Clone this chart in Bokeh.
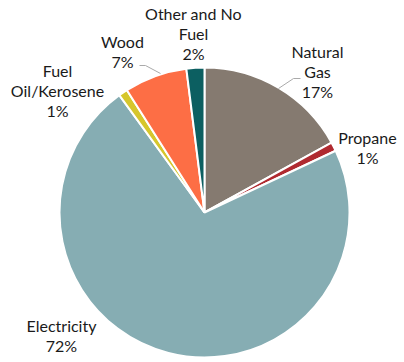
import math
from bokeh.plotting import figure
from bokeh.models import Range1d, ColumnDataSource
from bokeh.core.properties import value
from bokeh.embed import file_html
from bokeh.resources import INLINE

# ---- data ----
categories = ["Natural Gas", "Propane", "Electricity", "Fuel Oil/Kerosene", "Wood", "Other and No Fuel"]
shares = [17, 1, 72, 1, 7, 2]
label_lines = [["Natural", "Gas", "17%"], ["Propane", "1%"], ["Electricity", "72%"],
               ["Fuel", "Oil/Kerosene", "1%"], ["Wood", "7%"], ["Other and No", "Fuel", "2%"]]
colors = ["#857a70", "#b02a30", "#86adb3", "#d6c62c", "#fd6e45", "#0c5f61"]

# ---- layout (screen pixel coords) ----
W, H = 400, 360
CX, CY, R = 204, 212, 145
label_pos = [(317, 51), (367, 137), (61, 325), (57, 70), (122, 41), (193, 13)]
LINE_H = 20
leaders = [([278, 293, 300], [88, 78, 78]), None, None, None,
           ([139, 145, 160], [65, 65, 73]), None]


def sy(y):
    return 362 - y


def sx(x):
    return x


p = figure(width=W, height=H, output_backend="svg", toolbar_location=None,
           x_range=Range1d(0, W), y_range=Range1d(362 - H, 362),
           min_border=0, outline_line_color=None)
p.axis.visible = False
p.grid.visible = False
p.background_fill_color = "white"
p.border_fill_color = "white"

total = sum(shares)
starts, ends = [], []
cum = 0.0
for s in shares:
    a0 = cum / total * 2 * math.pi
    cum += s
    a1 = cum / total * 2 * math.pi
    starts.append(math.pi / 2 - a1)
    ends.append(math.pi / 2 - a0)

src = ColumnDataSource(dict(start=starts, end=ends, color=colors, cat=categories))
p.wedge(x=sx(CX), y=sy(CY), radius=R, start_angle="start", end_angle="end",
        direction="anticlock", fill_color="color", line_color="white", line_width=2,
        source=src)

for ld in leaders:
    if ld:
        p.line([sx(v) for v in ld[0]], [sy(v) for v in ld[1]], line_color="#aaaaaa", line_width=1)

tx, ty, tt = [], [], []
for (x, y), lines in zip(label_pos, label_lines):
    for i, t in enumerate(lines):
        tx.append(sx(x))
        ty.append(sy(y + i * LINE_H))
        tt.append(t)
p.text(x=tx, y=ty, text=tt, text_align="center", text_baseline="middle",
       text_font=value("Lato"), text_font_size="16px", text_color="#1a1a1a")

open("out.html", "w").write(file_html(p, INLINE))
